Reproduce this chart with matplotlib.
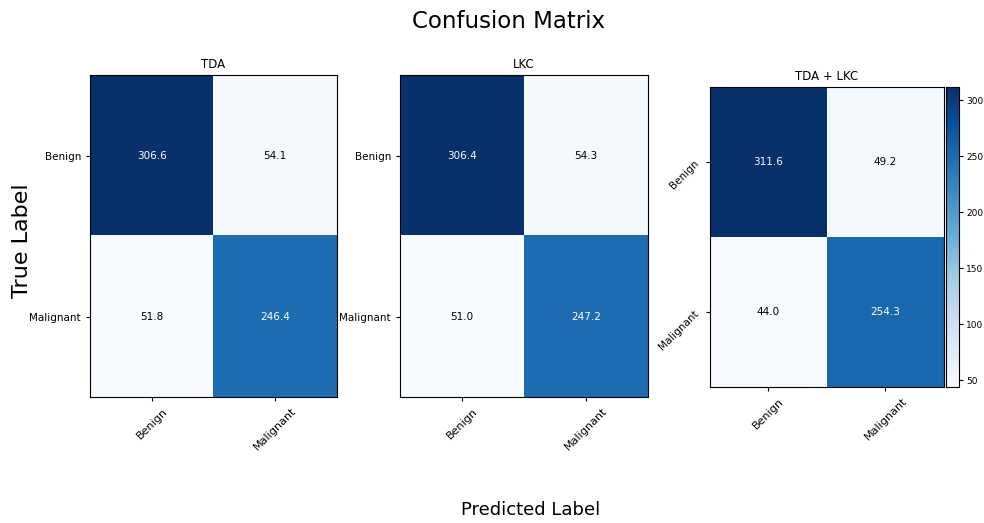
import numpy as np
import matplotlib
matplotlib.use("Agg")
import matplotlib.pyplot as plt

classes = ["Benign", "Malignant"]
titles = ["TDA", "LKC", "TDA + LKC"]
cm_tda = np.array([[306.6, 54.1], [51.8, 246.4]])
cm_lkc = np.array([[306.4, 54.3], [51.0, 247.2]])
cm_both = np.array([[311.6, 49.2], [44.0, 254.3]])
matrices = [cm_tda, cm_lkc, cm_both]

fig = plt.figure(figsize=(9.84, 5.23), dpi=100)

# axes boxes in figure fractions
boxes = [
    [0.0915, 0.2409, 0.251, 0.6157],
    [0.4065, 0.2409, 0.252, 0.6157],
    [0.7215, 0.2600, 0.2378, 0.5736],
]

for k, (cm, title, box) in enumerate(zip(matrices, titles, boxes)):
    ax = fig.add_axes(box)
    im = ax.imshow(cm, interpolation="nearest", cmap=plt.cm.Blues, aspect="auto")
    ax.set_title(title, fontsize=8.5, pad=5)
    ticks = np.arange(len(classes))
    ax.set_xticks(ticks)
    ax.set_xticklabels(classes, rotation=45, fontsize=8)
    ax.set_yticks(ticks)
    if k == 2:
        ax.set_yticklabels(classes, rotation=45, fontsize=7.5)
    else:
        ax.set_yticklabels(classes, fontsize=7.5)
    ax.tick_params(length=3, width=0.8)
    thresh = cm.max() / 2.0
    for i in range(cm.shape[0]):
        for j in range(cm.shape[1]):
            ax.text(j, i, "%.1f" % cm[i, j], ha="center", va="center", fontsize=7.5,
                    color="white" if cm[i, j] > thresh else "black")
    if k == 2:
        cax = fig.add_axes([0.9614, 0.2600, 0.0132, 0.5736])
        cb = fig.colorbar(im, cax=cax)
        cb.set_ticks([50, 100, 150, 200, 250, 300])
        cb.ax.tick_params(labelsize=6.5, length=3, pad=2)

fig.text(0.517, 0.958, "Confusion Matrix", ha="center", va="center", fontsize=16.5)
fig.text(0.539, 0.025, "Predicted Label", ha="center", va="center", fontsize=13)
fig.text(0.022, 0.54, "True Label", ha="center", va="center", rotation=90, fontsize=16)

fig.savefig("out.png", dpi=100)
